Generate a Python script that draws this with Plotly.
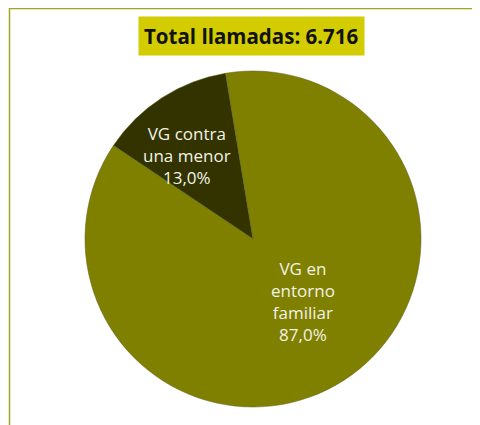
import math
import plotly.graph_objects as go

categories = ["VG contra<br>una menor", "VG en<br>entorno<br>familiar"]
values = [873, 5843]
colors = ["#333300", "#808000"]
title_text = "Total llamadas: 6.716"

W, H = 480, 425
OFF = 8  # page body margin
cx, cy, r = 253 - OFF, 239 - OFF, 168
ROTATION = -56.2
LABEL_ANGLE_SHIFT = -5.6          # Excel-like label placement nudge (degrees)
LABEL_RADIUS_FRAC = [0.636, 0.476]

fig = go.Figure(go.Pie(
    labels=categories,
    values=values,
    sort=False,
    direction="clockwise",
    rotation=ROTATION,
    marker=dict(colors=colors, line=dict(color="#5a5a20", width=0.5)),
    textinfo="none",
    showlegend=False,
    hoverinfo="label+percent",
    domain=dict(x=[(cx - r) / W, (cx + r) / W], y=[1 - (cy + r) / H, 1 - (cy - r) / H]),
))

# data labels placed at each slice's mid-angle
total = sum(values)
annotations = []
start = ROTATION
for lab, v, frac in zip(categories, values, LABEL_RADIUS_FRAC):
    span = v / total * 360
    mid = math.radians(start + span / 2 + LABEL_ANGLE_SHIFT)
    start += span
    px = cx + frac * r * math.sin(mid)
    py = cy - frac * r * math.cos(mid)
    pct = f"{v / total * 100:.1f}".replace(".", ",") + "%"
    annotations.append(dict(
        text=f"{lab}<br>{pct}", xref="paper", yref="paper",
        x=px / W, y=1 - py / H, xanchor="center", yanchor="middle",
        showarrow=False, align="center",
        font=dict(family="Open Sans", size=17, color="#f2f2e6"),
    ))

annotations.append(dict(
    text="<b>" + title_text + "</b>", xref="paper", yref="paper",
    x=(251 - OFF) / W, y=1 - (36.5 - OFF) / H, xanchor="center", yanchor="middle",
    showarrow=False, bgcolor="#d2cc00", borderpad=5,
    font=dict(family="Open Sans", size=20.5, color="#111111"),
))

fig.update_layout(
    width=W, height=H,
    margin=dict(l=0, r=0, t=0, b=0),
    paper_bgcolor="white",
    separators=",.",
    shapes=[
        dict(type="line", xref="paper", yref="paper", x0=1 / W, x1=1.05, y0=1, y1=1,
             line=dict(color="#a3a328", width=2.5)),
        dict(type="line", xref="paper", yref="paper", x0=1.5 / W, x1=1.5 / W, y0=-0.05, y1=1,
             line=dict(color="#a3a328", width=1.5)),
    ],
    annotations=annotations,
)

fig.write_html("out.html")
